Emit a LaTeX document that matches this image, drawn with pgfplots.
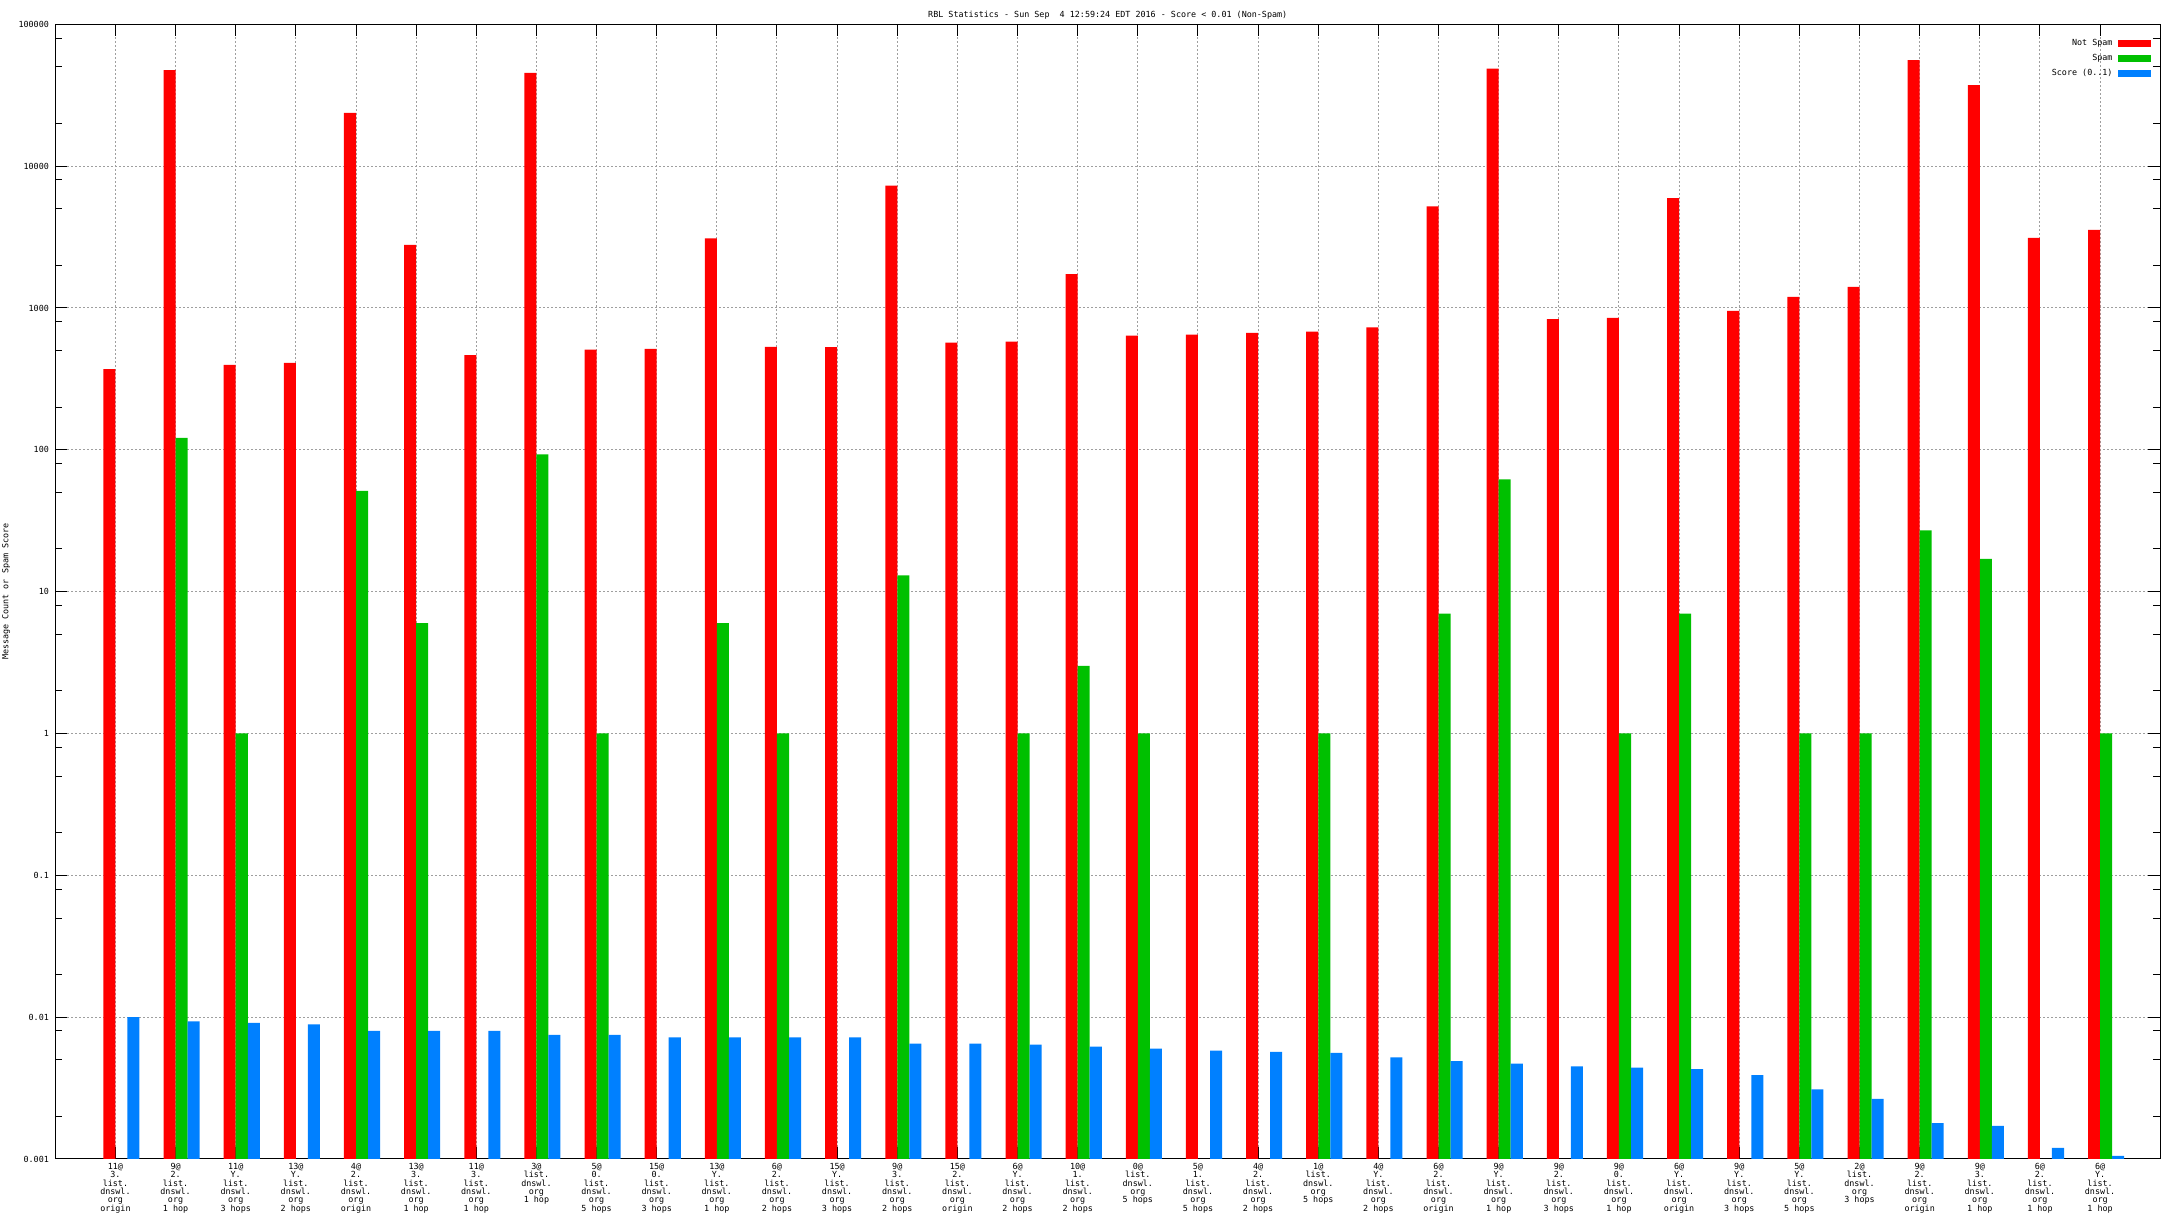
\documentclass[border=0pt]{standalone}
\usepackage{fontspec}
\setmonofont{DejaVu Sans Mono}
\usepackage{pgfplots}
\pgfplotsset{compat=1.18}
\definecolor{gpred}{RGB}{255,0,0}
\definecolor{gpgreen}{RGB}{0,192,0}
\definecolor{gpblue}{RGB}{0,128,255}
\newcommand{\gpfont}{\fontsize{4.2}{4.15}\selectfont\ttfamily}
\pgfplotsset{
  gpbar/.style={ybar, bar width=0.2, draw=none, fill=#1,
    legend image code/.code={\fill[#1] (0pt,-1.7pt) rectangle (16.5pt,1.7pt);}},
}
\begin{document}
\begin{tikzpicture}
\begin{axis}[
  scale only axis, width=1052.5pt, height=567.35pt,
  ymode=log, log origin=infty,
  xmin=-1, xmax=34, ymin=0.001, ymax=100000,
  xtick={0,...,33},
  xticklabels={
{11@\\3.\\list.\\dnswl.\\org\\origin},
{9@\\2.\\list.\\dnswl.\\org\\1 hop},
{11@\\Y.\\list.\\dnswl.\\org\\3 hops},
{13@\\Y.\\list.\\dnswl.\\org\\2 hops},
{4@\\2.\\list.\\dnswl.\\org\\origin},
{13@\\3.\\list.\\dnswl.\\org\\1 hop},
{11@\\3.\\list.\\dnswl.\\org\\1 hop},
{3@\\list.\\dnswl.\\org\\1 hop},
{5@\\0.\\list.\\dnswl.\\org\\5 hops},
{15@\\0.\\list.\\dnswl.\\org\\3 hops},
{13@\\Y.\\list.\\dnswl.\\org\\1 hop},
{6@\\2.\\list.\\dnswl.\\org\\2 hops},
{15@\\Y.\\list.\\dnswl.\\org\\3 hops},
{9@\\3.\\list.\\dnswl.\\org\\2 hops},
{15@\\2.\\list.\\dnswl.\\org\\origin},
{6@\\Y.\\list.\\dnswl.\\org\\2 hops},
{10@\\1.\\list.\\dnswl.\\org\\2 hops},
{0@\\list.\\dnswl.\\org\\5 hops},
{5@\\1.\\list.\\dnswl.\\org\\5 hops},
{4@\\2.\\list.\\dnswl.\\org\\2 hops},
{1@\\list.\\dnswl.\\org\\5 hops},
{4@\\Y.\\list.\\dnswl.\\org\\2 hops},
{6@\\2.\\list.\\dnswl.\\org\\origin},
{9@\\Y.\\list.\\dnswl.\\org\\1 hop},
{9@\\2.\\list.\\dnswl.\\org\\3 hops},
{9@\\0.\\list.\\dnswl.\\org\\1 hop},
{6@\\Y.\\list.\\dnswl.\\org\\origin},
{9@\\Y.\\list.\\dnswl.\\org\\3 hops},
{5@\\Y.\\list.\\dnswl.\\org\\5 hops},
{2@\\list.\\dnswl.\\org\\3 hops},
{9@\\2.\\list.\\dnswl.\\org\\origin},
{9@\\3.\\list.\\dnswl.\\org\\1 hop},
{6@\\2.\\list.\\dnswl.\\org\\1 hop},
{6@\\Y.\\list.\\dnswl.\\org\\1 hop}},
  ytick={0.001,0.01,0.1,1,10,100,1000,10000,100000},
  yticklabels={0.001,0.01,0.1,1,10,100,1000,10000,100000},
  minor ytick={0.002,0.005,0.008,0.02,0.05,0.08,0.2,0.5,0.8,2,5,8,20,50,80,200,500,800,2000,5000,8000,20000,50000,80000},
  tick align=inside,
  major tick length=6pt, minor tick length=3.4pt,
  tick style={black, line width=0.5pt},
  axis line style={line width=0.5pt},
  grid=major,
  major grid style={color=gray!75, dash pattern=on 1pt off 1pt, line width=0.5pt},
  tick label style={font=\gpfont},
  yticklabel style={inner sep=0pt, xshift=-3pt},
  xticklabel style={align=center, inner sep=0pt, yshift=-2pt, anchor=north},
  ylabel={Message Count or Spam Score},
  ylabel style={at={(axis description cs:-0.02328,0.5)}, anchor=center, font=\gpfont, inner sep=0pt},
  title={RBL Statistics - Sun Sep\ \ 4 12:59:24 EDT 2016 - Score < 0.01 (Non-Spam)},
  title style={at={(axis description cs:0.5,1)}, anchor=base, yshift=-2.5pt, font=\gpfont, inner sep=0pt},
  legend plot pos=right,
  legend cell align=right,
  legend style={at={(axis description cs:1,1)}, anchor=north east, xshift=-4.85pt, yshift=-7.75pt,
    draw=none, fill=none, inner sep=0pt, outer sep=0pt, font=\gpfont,
    row sep=4pt, column sep=2.5pt,
    nodes={inner sep=0pt, text height=3pt, text depth=0.5pt}},
]
\addplot[gpbar=gpred, bar shift=-0.1] coordinates {
(0,370) (1,47600) (2,397) (3,410) (4,23700) (5,2785) (6,465) (7,45500)
(8,508) (9,515) (10,3100) (11,532) (12,530) (13,7300) (14,570) (15,580)
(16,1730) (17,637) (18,650) (19,667) (20,680) (21,730) (22,5200) (23,48600)
(24,835) (25,850) (26,5960) (27,955) (28,1197) (29,1409) (30,56000) (31,37300)
(32,3120) (33,3550)};
\addlegendentry{Not Spam}
\addplot[gpbar=gpgreen, bar shift=0.1] coordinates {
(1,121.6) (2,1) (4,51.4) (5,6) (7,93) (8,1) (10,6) (11,1) (13,13) (15,1)
(16,3) (17,1) (20,1) (22,7) (23,62) (25,1) (26,7) (28,1) (29,1) (30,27)
(31,17) (33,1)};
\addlegendentry{Spam}
\addplot[gpbar=gpblue, bar shift=0.3] coordinates {
(0,0.0100) (1,0.00935) (2,0.0091) (3,0.0089) (4,0.0080) (5,0.0080) (6,0.0080)
(7,0.0075) (8,0.0075) (9,0.0072) (10,0.0072) (11,0.0072) (12,0.0072)
(13,0.0065) (14,0.0065) (15,0.0064) (16,0.0062) (17,0.0060) (18,0.0058)
(19,0.0057) (20,0.0056) (21,0.0052) (22,0.0049) (23,0.0047) (24,0.0045)
(25,0.0044) (26,0.0043) (27,0.0039) (28,0.0031) (29,0.00265) (30,0.00179)
(31,0.00171) (32,0.0012) (33,0.00105)};
\addlegendentry{Score (0..1)}
\end{axis}
\pgfresetboundingbox
\path[use as bounding box] (current axis.south west) ++(-27.65pt,-32.5pt) rectangle ++(1088pt,612pt);
\end{tikzpicture}
\end{document}
